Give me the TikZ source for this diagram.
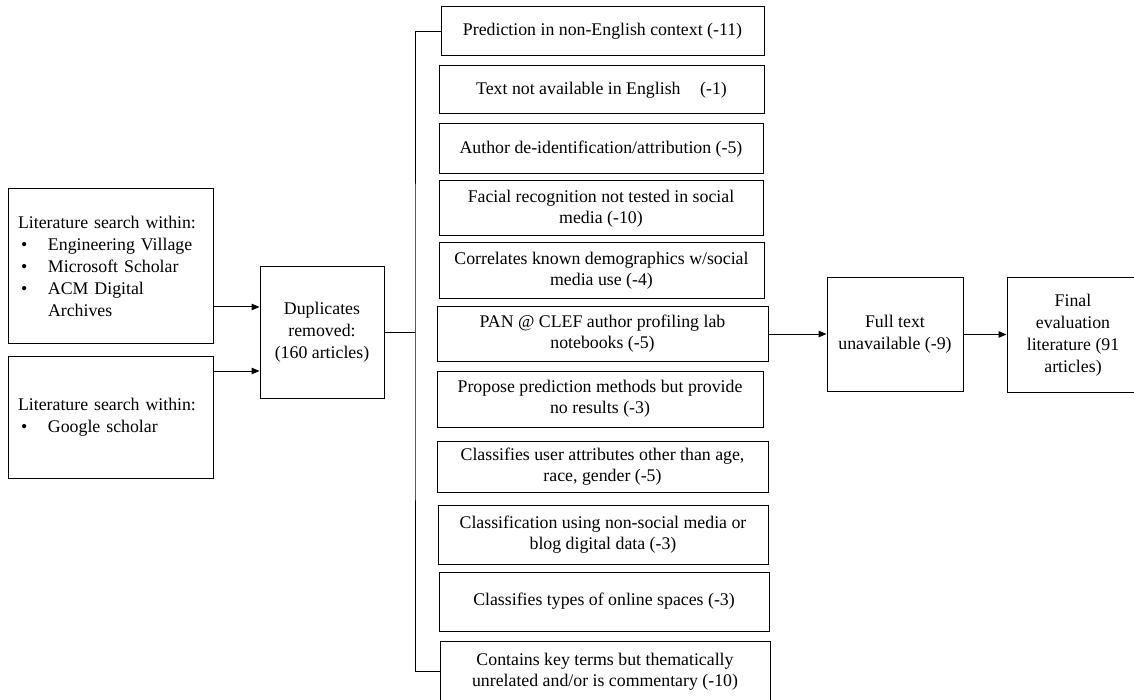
\documentclass[tikz,border=0pt]{standalone}
\usepackage{fontspec}
\setmainfont{Liberation Serif}
\usetikzlibrary{arrows.meta}
\tikzset{
  box/.style={draw, line width=1pt, inner sep=0pt, align=center, font=\fontsize{17.8}{21}\selectfont},
  arr/.style={line width=1pt, -{Triangle[length=8pt,width=6.5pt]}},
  ln/.style={line width=1pt},
}
\newcommand{\bul}[1]{\hspace*{3pt}\makebox[27pt][l]{•}#1}
\begin{document}
\begin{tikzpicture}[x=1pt,y=-1pt]
\useasboundingbox (0,0) rectangle (1134,700);
\node[box, minimum width=205pt, minimum height=154pt, text width=185pt, align=left,
      font=\fontsize{17.8}{22}\selectfont] (L1) at (110.5,266)
  {Literature search within:\\\bul{Engineering Village}\\\bul{Microsoft Scholar}\\\bul{ACM Digital}\\\hspace*{30pt}Archives};
\node[box, minimum width=205pt, minimum height=122pt, text width=185pt, align=left,
      font=\fontsize{17.8}{22}\selectfont] (L2) at (110.5,417)
  {Literature search within:\\\bul{Google scholar}};
\node[box, minimum width=124pt, minimum height=131pt, font=\fontsize{17.8}{22}\selectfont] (D) at (322,332.5)
  {Duplicates\\removed:\\(160 articles)};

\node[box, minimum width=323pt, minimum height=49pt] (M1) at (602.5,31.5) {Prediction in non-English context (-11)};
\node[box, minimum width=325pt, minimum height=48pt] (M2) at (601.5,90) {Text not available in English\hspace{1.1em}(-1)};
\node[box, minimum width=324pt, minimum height=50pt] (M3) at (601,149) {Author de-identification/attribution (-5)};
\node[box, minimum width=324pt, minimum height=55pt] (M4) at (601,208.5) {Facial recognition not tested in social\\media (-10)};
\node[box, minimum width=325pt, minimum height=56pt] (M5) at (601.5,271) {Correlates known demographics w/social\\media use (-4)};
\node[box, minimum width=331pt, minimum height=54pt] (M6) at (602.5,334) {PAN @ CLEF author profiling lab\\notebooks (-5)};
\node[box, minimum width=326pt, minimum height=56pt] (M7) at (600,399) {Propose prediction methods but provide\\no results (-3)};
\node[box, minimum width=331pt, minimum height=51pt] (M8) at (602.5,466.5) {Classifies user attributes other than age,\\race, gender (-5)};
\node[box, minimum width=330pt, minimum height=59pt] (M9) at (603,534.5) {Classification using non-social media or\\blog digital data (-3)};
\node[box, minimum width=330pt, minimum height=59pt] (M10) at (604,601.5) {Classifies types of online spaces (-3)};
\node[box, minimum width=330pt, minimum height=61pt] (M11) at (605,671.5) {Contains key terms but thematically\\unrelated and/or is commentary (-10)};

\node[box, minimum width=136pt, minimum height=113pt, font=\fontsize{17.8}{22}\selectfont] (F) at (895,334.5) {Full text\\unavailable (-9)};
\node[box, minimum width=132pt, minimum height=114pt, font=\fontsize{17.8}{22}\selectfont] (E) at (1073,335) {Final\\evaluation\\literature (91\\articles)};

\coordinate (T) at (415,332.5);
\draw[arr] (L1.east |- 0,307) -- (D.west |- 0,307);
\draw[arr] (L2.east |- 0,371) -- (D.west |- 0,371);
\draw[ln] (D.east) -- (T);
\draw[ln] (M1.west) -| (T) |- (M11.west);
\draw[arr] (M6.east) -- (F.west |- M6.east);
\draw[arr] (F.east) -- (E.west |- F.east);
\end{tikzpicture}
\end{document}
